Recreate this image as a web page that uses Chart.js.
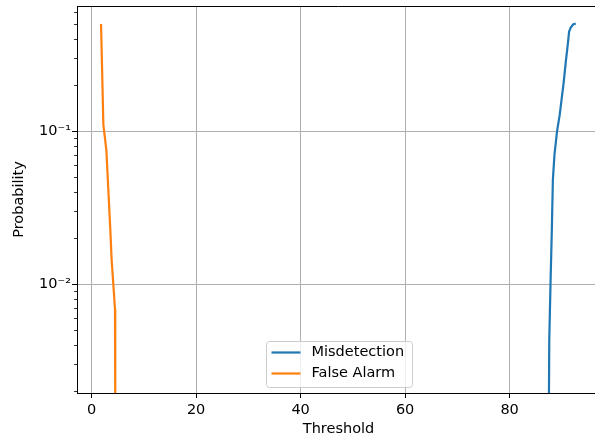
<!DOCTYPE html>
<html lang="en">
<head>
<meta charset="UTF-8">
<title>Misdetection / False Alarm</title>
<style>
  html, body { margin: 0; padding: 0; background: #fff; overflow: hidden; }
  #chartContainer { width: 640px; height: 436px; }
</style>
</head>
<body>
<div id="chartContainer">
  <canvas id="myChart" width="640" height="436"></canvas>
</div>

<script src="https://cdn.jsdelivr.net/npm/chart.js"></script>
<script>
  // curves: threshold -> probability
  const seriesNames = ['Misdetection', 'False Alarm'];

  const misThreshold = [87.51, 87.59, 87.83, 88.08, 88.28, 88.58, 89.08, 89.58, 90.36, 90.75, 91.19, 91.38, 91.70, 92.15, 92.66];
  const misProb      = [0.0015, 0.00432, 0.01014, 0.0226, 0.0479, 0.0697, 0.100, 0.127, 0.210, 0.283, 0.382, 0.445, 0.475, 0.497, 0.504];

  const faThreshold = [1.80, 2.25, 2.82, 3.20, 3.58, 3.83, 4.16, 4.48, 4.52];
  const faProb      = [0.50, 0.110, 0.0752, 0.0412, 0.0226, 0.0144, 0.00989, 0.00679, 0.0015];

  const xTicks = [0, 20, 40, 60, 80];
  const yTicks = [0.1, 0.01];
  const yTickLabels = ['10\u207B\u00B9', '10\u207B\u00B2'];
  const yMinorTicks = [0.002, 0.003, 0.004, 0.005, 0.006, 0.007, 0.008, 0.009,
                       0.02, 0.03, 0.04, 0.05, 0.06, 0.07, 0.08, 0.09,
                       0.2, 0.3, 0.4, 0.5, 0.6];

  const FONT = { family: 'DejaVu Sans', size: 14.5 };

  // minor tick marks + top/right spines
  const frame = {
    id: 'frame',
    afterDraw(chart) {
      const ctx = chart.ctx;
      const a = chart.chartArea;
      const y = chart.scales.y;
      ctx.save();
      ctx.strokeStyle = '#000';
      ctx.lineWidth = 0.8;
      yMinorTicks.forEach(v => {
        const py = Math.round(y.getPixelForValue(v)) + 0.5;
        if (py < a.top || py > a.bottom) return;
        ctx.beginPath();
        ctx.moveTo(a.left, py);
        ctx.lineTo(a.left - 3, py);
        ctx.stroke();
      });
      ctx.lineWidth = 1;
      ctx.beginPath();
      ctx.moveTo(a.left, a.top + 0.5);
      ctx.lineTo(a.right, a.top + 0.5);
      ctx.lineTo(a.right, a.bottom);
      ctx.stroke();
      ctx.restore();
    }
  };

  // matplotlib-like legend, lower center inside the axes
  const legendBox = {
    id: 'legendBox',
    afterDraw(chart) {
      const ctx = chart.ctx;
      const a = chart.chartArea;
      const w = 146, h = 46;
      const x0 = (a.left + a.right) / 2 - w / 2;
      const y0 = a.bottom - 6.5 - h;
      ctx.save();
      ctx.beginPath();
      ctx.roundRect(Math.round(x0) + 0.5, Math.round(y0) + 0.5, w, h, 3);
      ctx.fillStyle = 'rgba(255,255,255,0.8)';
      ctx.fill();
      ctx.strokeStyle = '#cccccc';
      ctx.lineWidth = 1;
      ctx.stroke();
      ctx.font = FONT.size + 'px ' + FONT.family;
      ctx.textBaseline = 'middle';
      chart.data.datasets.forEach((ds, i) => {
        const cy = y0 + 12 + i * 21;
        ctx.strokeStyle = ds.borderColor;
        ctx.lineWidth = 2.2;
        ctx.beginPath();
        ctx.moveTo(x0 + 6, cy);
        ctx.lineTo(x0 + 35, cy);
        ctx.stroke();
        ctx.fillStyle = '#000';
        ctx.fillText(ds.label, x0 + 46, cy);
      });
      ctx.restore();
    }
  };

  const toPoints = (xs, ys) => xs.map((x, i) => ({ x: x, y: ys[i] }));

  const ctx = document.getElementById('myChart').getContext('2d');
  const chart = new Chart(ctx, {
    type: 'line',
    data: {
      datasets: [{
        label: seriesNames[0],
        data: toPoints(misThreshold, misProb),
        borderColor: '#1f77b4',
        borderWidth: 2.2,
        pointRadius: 0,
        tension: 0,
        clip: 0
      }, {
        label: seriesNames[1],
        data: toPoints(faThreshold, faProb),
        borderColor: '#ff7f0e',
        borderWidth: 2.2,
        pointRadius: 0,
        tension: 0,
        clip: 0
      }]
    },
    options: {
      responsive: false,
      animation: false,
      devicePixelRatio: 1,
      layout: { padding: { left: 0, top: 6, right: 40, bottom: 0 } },
      plugins: {
        legend: { display: false },
        tooltip: { enabled: false }
      },
      scales: {
        x: {
          type: 'linear',
          min: -2.8,
          max: 97.3,
          afterBuildTicks: s => { s.ticks = xTicks.map(v => ({ value: v })); },
          afterFit: s => { s.height = 43; s.paddingLeft = 0; s.paddingRight = 0; },
          ticks: { color: '#000', font: FONT, padding: 4, maxRotation: 0 },
          grid: { color: '#b0b0b0', lineWidth: 1, tickColor: '#000', tickLength: 5, tickWidth: 1 },
          border: { color: '#000', width: 1 },
          title: { display: true, text: 'Threshold', color: '#000', font: { ...FONT, lineHeight: 1 }, padding: 0 }
        },
        y: {
          type: 'logarithmic',
          min: 0.00195,
          max: 0.656,
          afterBuildTicks: s => { s.ticks = yTicks.map(v => ({ value: v })); },
          afterFit: s => { s.width = 77; s.paddingTop = 0; s.paddingBottom = 0; },
          ticks: {
            color: '#000',
            font: FONT,
            padding: 1,
            callback: v => {
              const i = yTicks.findIndex(t => Math.abs(t - v) < 1e-9);
              return i >= 0 ? yTickLabels[i] : '';
            }
          },
          grid: { color: '#b0b0b0', lineWidth: 1, tickColor: '#000', tickLength: 5, tickWidth: 1 },
          border: { color: '#000', width: 1 },
          title: { display: true, text: 'Probability', color: '#000', font: { ...FONT, lineHeight: 1 }, padding: { top: 12, bottom: 0 } }
        }
      }
    },
    plugins: [frame, legendBox]
  });
</script>
</body>
</html>
